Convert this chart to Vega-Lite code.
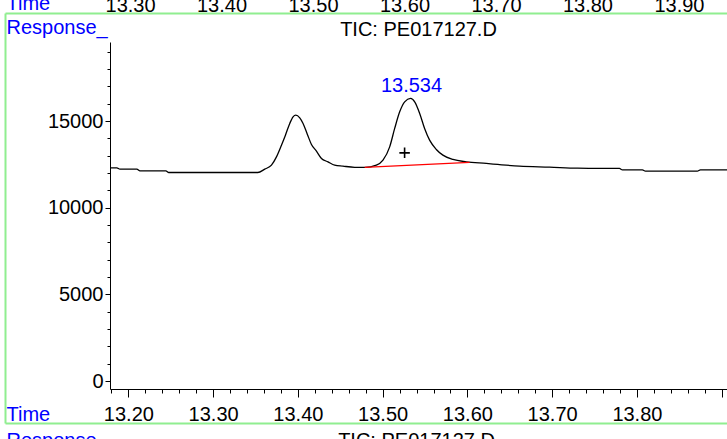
{
  "$schema": "https://vega.github.io/schema/vega-lite/v6.json",
  "width": 617,
  "height": 347,
  "autosize": {"type": "none"},
  "padding": {"left": 110, "top": 42, "right": 0, "bottom": 50},
  "background": "white",
  "title": {"text": "TIC: PE017127.D", "fontSize": 20, "font": "Liberation Sans", "fontWeight": "normal", "color": "black", "anchor": "middle", "baseline": "alphabetic", "dy": 63, "offset": 0},
  "datasets": {
    "trace": [
      {"t": 13.1783, "r": 12301}, {"t": 13.1864, "r": 12301}, {"t": 13.1900, "r": 12224}, {"t": 13.2100, "r": 12224},
      {"t": 13.2136, "r": 12127}, {"t": 13.2442, "r": 12127}, {"t": 13.2477, "r": 12031}, {"t": 13.3527, "r": 12031},
      {"t": 13.3609, "r": 12224}, {"t": 13.3688, "r": 12455}, {"t": 13.3747, "r": 12934}, {"t": 13.3806, "r": 13609},
      {"t": 13.3853, "r": 14186}, {"t": 13.3904, "r": 14862}, {"t": 13.3943, "r": 15244}, {"t": 13.3975, "r": 15342},
      {"t": 13.4022, "r": 15186}, {"t": 13.4061, "r": 14862}, {"t": 13.4112, "r": 14227}, {"t": 13.4160, "r": 13649},
      {"t": 13.4219, "r": 13263}, {"t": 13.4278, "r": 12841}, {"t": 13.4355, "r": 12645}, {"t": 13.4434, "r": 12455},
      {"t": 13.4532, "r": 12397}, {"t": 13.4670, "r": 12330}, {"t": 13.4788, "r": 12321}, {"t": 13.4926, "r": 12455},
      {"t": 13.5004, "r": 12743}, {"t": 13.5083, "r": 13511}, {"t": 13.5142, "r": 14573}, {"t": 13.5201, "r": 15532},
      {"t": 13.5260, "r": 16109}, {"t": 13.5330, "r": 16306}, {"t": 13.5378, "r": 16109}, {"t": 13.5437, "r": 15440},
      {"t": 13.5495, "r": 14573}, {"t": 13.5554, "r": 13898}, {"t": 13.5633, "r": 13361}, {"t": 13.5711, "r": 13032},
      {"t": 13.5829, "r": 12784}, {"t": 13.5987, "r": 12645}, {"t": 13.6223, "r": 12553}, {"t": 13.6359, "r": 12495},
      {"t": 13.6615, "r": 12397}, {"t": 13.6969, "r": 12340}, {"t": 13.7299, "r": 12280}, {"t": 13.7558, "r": 12264},
      {"t": 13.7794, "r": 12264}, {"t": 13.7829, "r": 12183}, {"t": 13.8065, "r": 12183}, {"t": 13.8100, "r": 12108},
      {"t": 13.8713, "r": 12108}, {"t": 13.8749, "r": 12183}, {"t": 13.9063, "r": 12183}
    ],
    "baseline": [{"t": 13.4788, "r": 12321}, {"t": 13.6026, "r": 12610}],
    "marker": [{"t": 13.5259, "r": 13165}],
    "peak": [{"t": 13.534, "r": 16306, "label": "13.534"}]
  },
  "layer": [
    {
      "layer": [
        {
          "data": {"name": "trace"},
          "mark": {"type": "line", "color": "black", "strokeWidth": 1.3, "interpolate": "monotone", "clip": true},
          "encoding": {
            "x": {
              "field": "t", "type": "quantitative",
              "scale": {"domain": [13.1783, 13.9063], "nice": false, "zero": false},
              "axis": {
                "orient": "bottom",
                "values": [13.18, 13.20, 13.22, 13.24, 13.26, 13.28, 13.30, 13.32, 13.34, 13.36, 13.38, 13.40, 13.42, 13.44, 13.46, 13.48, 13.50, 13.52, 13.54, 13.56, 13.58, 13.60, 13.62, 13.64, 13.66, 13.68, 13.70, 13.72, 13.74, 13.76, 13.78, 13.80, 13.82, 13.84, 13.86, 13.88, 13.90],
                "tickCount": 100,
                "labelExpr": "round(datum.value*100) % 10 == 0 && datum.value < 13.85 ? format(datum.value, '.2f') : ''",
                "tickSize": {"condition": {"test": "round(datum.value*100) % 10 == 0", "value": 8}, "value": 4},
                "labelBaseline": "alphabetic",
                "labelPadding": 23,
                "labelFlush": false,
                "labelOverlap": false,
                "title": "Time",
                "titleColor": "#0000ff",
                "titleAlign": "left",
                "titleAnchor": "start",
                "titleBaseline": "alphabetic",
                "titleX": -104,
                "titleY": 31
              }
            },
            "y": {
              "field": "r", "type": "quantitative",
              "scale": {"domain": [-460, 19560], "nice": false, "zero": false},
              "axis": {
                "orient": "left",
                "values": [0, 1000, 2000, 3000, 4000, 5000, 6000, 7000, 8000, 9000, 10000, 11000, 12000, 13000, 14000, 15000, 16000, 17000, 18000, 19000],
                "tickCount": 100,
                "labelExpr": "datum.value % 5000 == 0 ? '' + datum.value : ''",
                "tickSize": {"condition": {"test": "datum.value % 5000 == 0", "value": 5}, "value": 3},
                "labelPadding": 2,
                "labelOverlap": false,
                "labelFlush": false,
                "title": "Response_",
                "titleColor": "#0000ff",
                "titleAngle": 0,
                "titleAlign": "left",
                "titleBaseline": "alphabetic",
                "titleX": -104,
                "titleY": -9
              }
            }
          }
        },
        {
          "data": {"name": "baseline"},
          "mark": {"type": "line", "color": "#ff0000", "strokeWidth": 1.3},
          "encoding": {
            "x": {"field": "t", "type": "quantitative"},
            "y": {"field": "r", "type": "quantitative"}
          }
        },
        {
          "data": {"name": "marker"},
          "mark": {"type": "point", "shape": "M-1,0H1M0,-1V1", "size": 110, "filled": false, "color": "black", "strokeWidth": 1.6, "opacity": 1},
          "encoding": {
            "x": {"field": "t", "type": "quantitative"},
            "y": {"field": "r", "type": "quantitative"}
          }
        },
        {
          "data": {"name": "peak"},
          "mark": {"type": "text", "color": "#0000ff", "fontSize": 20, "font": "Liberation Sans", "align": "center", "baseline": "alphabetic", "dy": -6},
          "encoding": {
            "x": {"field": "t", "type": "quantitative"},
            "y": {"field": "r", "type": "quantitative"},
            "text": {"field": "label"}
          }
        }
      ]
    },
    {
      "data": {"name": "trace"},
      "mark": {"type": "rule", "opacity": 0},
      "encoding": {
        "x": {
          "field": "t", "type": "quantitative",
          "scale": {"domain": [13.2781, 13.9525], "nice": false, "zero": false},
          "axis": {
            "orient": "top",
            "values": [13.3, 13.4, 13.5, 13.6, 13.7, 13.8, 13.9],
            "tickCount": 100,
            "format": ".2f",
            "domain": false,
            "ticks": false,
            "tickSize": 0,
            "offset": 31,
            "labelBaseline": "alphabetic",
            "labelPadding": 0,
            "labelFlush": false,
            "labelOverlap": false,
            "title": "Time",
            "titleColor": "#0000ff",
            "titleAlign": "left",
            "titleBaseline": "alphabetic",
            "titleX": -104,
            "titleY": -2
          }
        }
      }
    },
    {
      "data": {"name": "trace"},
      "mark": {"type": "point", "opacity": 0},
      "encoding": {
        "x": {
          "field": "t", "type": "quantitative",
          "scale": {"domain": [13.1783, 13.9063], "range": [-105, 625], "nice": false, "zero": false},
          "axis": {"orient": "top", "offset": 29, "domainColor": "#90ee90", "domainWidth": 2, "ticks": false, "labels": false, "title": null}
        },
        "y": {
          "field": "r", "type": "quantitative",
          "scale": {"domain": [-460, 19560], "range": [381, -29], "nice": false, "zero": false},
          "axis": {"orient": "left", "offset": 105, "domainColor": "#90ee90", "domainWidth": 2, "ticks": false, "labels": false, "title": null}
        }
      }
    },
    {
      "data": {"name": "trace"},
      "mark": {"type": "point", "opacity": 0},
      "encoding": {
        "x": {
          "field": "t", "type": "quantitative",
          "scale": {"domain": [13.1783, 13.9063], "range": [-105, 625], "nice": false, "zero": false},
          "axis": {"orient": "bottom", "offset": 34, "domainColor": "#90ee90", "domainWidth": 2, "ticks": false, "labels": false, "title": "TIC: PE017127.D", "titleColor": "black", "titleBaseline": "alphabetic", "titleX": 306, "titleY": 23}
        },
        "y": {
          "field": "r", "type": "quantitative",
          "scale": {"domain": [-460, 19560], "nice": false, "zero": false},
          "axis": {"orient": "right", "offset": 0, "domain": false, "ticks": false, "labels": false, "title": "Response_", "titleColor": "#0000ff", "titleAngle": 0, "titleAlign": "left", "titleBaseline": "alphabetic", "titleX": -721, "titleY": 404}
        }
      }
    }
  ],
  "resolve": {
    "scale": {"x": "independent", "y": "independent"},
    "axis": {"x": "independent", "y": "independent"}
  },
  "config": {
    "view": {"stroke": null},
    "font": "Liberation Sans",
    "axis": {
      "labelFont": "Liberation Sans", "titleFont": "Liberation Sans",
      "labelFontSize": 20, "titleFontSize": 20, "titleFontWeight": "normal",
      "labelColor": "black", "domainColor": "black", "tickColor": "black",
      "domainWidth": 1, "tickWidth": 1, "grid": false, "titlePadding": 0
    }
  }
}
